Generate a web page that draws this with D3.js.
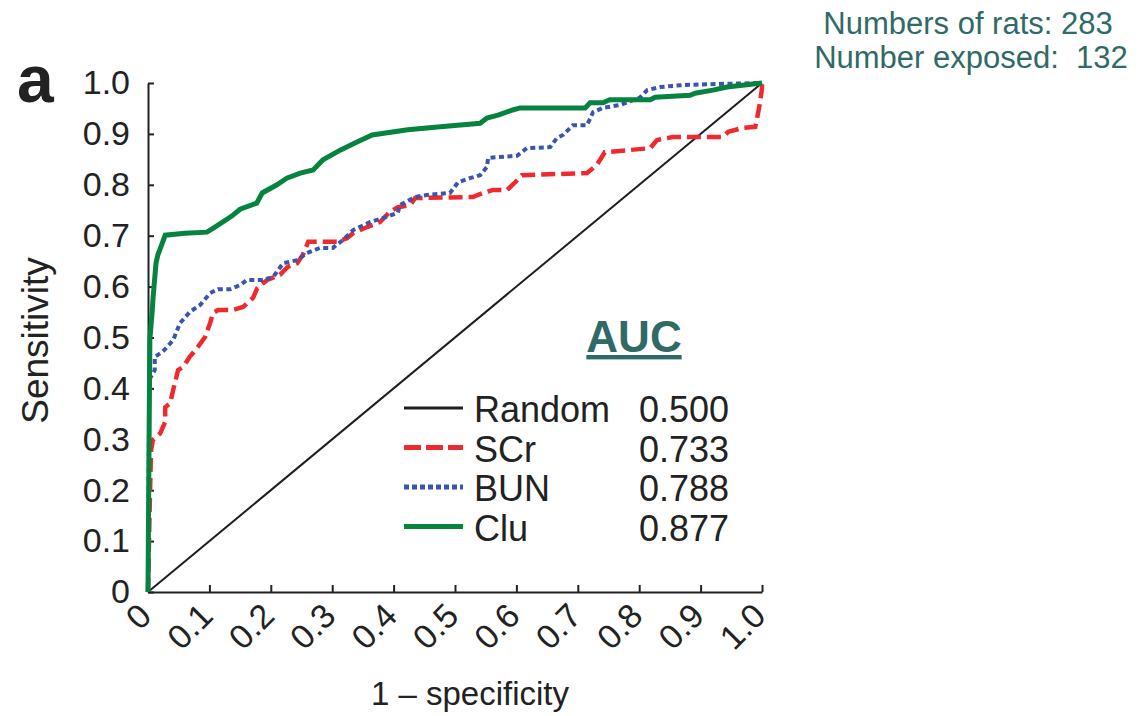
<!DOCTYPE html>
<meta charset="utf-8">
<style type="text/css">
body {
  margin: 0;
  background: #fff;
  font-family: "Liberation Sans", Arial, Helvetica, sans-serif;
}
.axis path, .axis line {
  stroke: #222;
  stroke-width: 2px;
}
.axis text {
  font-size: 34px;
  fill: #222;
  font-family: "Liberation Sans", Arial, sans-serif;
}
.teal {
  fill: #2f6a67;
}
</style>
<body>
<svg id="svg" width="1148" height="716"></svg>
</body>
<script src="https://cdn.jsdelivr.net/npm/d3@7"></script>
<script>
// tick labels
const xTickLabels = ["0", "0.1", "0.2", "0.3", "0.4", "0.5", "0.6", "0.7", "0.8", "0.9", "1.0"];
const yTickLabels = ["0", "0.1", "0.2", "0.3", "0.4", "0.5", "0.6", "0.7", "0.8", "0.9", "1.0"];

// legend / AUC values
const seriesNames = ["Random", "SCr", "BUN", "Clu"];
const aucValues = ["0.500", "0.733", "0.788", "0.877"];

// ROC curves (1 - specificity, sensitivity)
const randomFpr = [0, 1];
const randomTpr = [0, 1];

const scrFpr = [0, 0.003, 0.005, 0.008, 0.020, 0.028, 0.028, 0.036, 0.041, 0.049, 0.057, 0.068, 0.081, 0.093, 0.101, 0.106, 0.114, 0.138, 0.155, 0.171, 0.178, 0.194, 0.215, 0.228, 0.243, 0.252, 0.261, 0.308, 0.324, 0.334, 0.357, 0.378, 0.394, 0.407, 0.427, 0.435, 0.529, 0.546, 0.562, 0.585, 0.598, 0.609, 0.715, 0.731, 0.744, 0.818, 0.829, 0.855, 0.936, 0.945, 0.969, 0.989, 0.993, 0.997, 1.0, 1.0];
const scrTpr = [0, 0.181, 0.279, 0.299, 0.312, 0.334, 0.363, 0.371, 0.397, 0.436, 0.442, 0.462, 0.481, 0.501, 0.528, 0.548, 0.554, 0.554, 0.560, 0.578, 0.597, 0.613, 0.623, 0.639, 0.646, 0.662, 0.688, 0.688, 0.695, 0.705, 0.717, 0.727, 0.747, 0.756, 0.760, 0.774, 0.776, 0.784, 0.790, 0.790, 0.805, 0.819, 0.823, 0.839, 0.864, 0.872, 0.888, 0.894, 0.894, 0.904, 0.912, 0.914, 0.937, 0.963, 0.990, 1.0];

const bunFpr = [0, 0.002, 0.011, 0.011, 0.024, 0.041, 0.052, 0.068, 0.085, 0.101, 0.114, 0.134, 0.150, 0.161, 0.187, 0.204, 0.220, 0.243, 0.259, 0.280, 0.301, 0.318, 0.334, 0.362, 0.383, 0.407, 0.410, 0.435, 0.454, 0.492, 0.505, 0.524, 0.541, 0.552, 0.554, 0.601, 0.617, 0.655, 0.666, 0.676, 0.692, 0.715, 0.725, 0.741, 0.769, 0.801, 0.813, 0.834, 0.871, 0.927, 1.0];
const bunTpr = [0, 0.417, 0.436, 0.462, 0.472, 0.495, 0.528, 0.550, 0.564, 0.587, 0.595, 0.595, 0.603, 0.613, 0.613, 0.619, 0.646, 0.652, 0.666, 0.676, 0.676, 0.692, 0.711, 0.727, 0.735, 0.745, 0.760, 0.776, 0.780, 0.784, 0.805, 0.813, 0.819, 0.835, 0.853, 0.857, 0.872, 0.874, 0.892, 0.898, 0.917, 0.917, 0.943, 0.951, 0.957, 0.971, 0.986, 0.992, 0.996, 0.998, 1.0];

const cluFpr = [0, 0.002, 0.003, 0.007, 0.008, 0.013, 0.016, 0.021, 0.028, 0.060, 0.096, 0.109, 0.137, 0.150, 0.177, 0.186, 0.210, 0.226, 0.248, 0.269, 0.285, 0.313, 0.337, 0.365, 0.423, 0.476, 0.541, 0.552, 0.570, 0.594, 0.606, 0.712, 0.720, 0.741, 0.752, 0.818, 0.826, 0.883, 0.891, 0.920, 0.943, 1.0];
const cluTpr = [0, 0.338, 0.495, 0.554, 0.574, 0.646, 0.662, 0.678, 0.701, 0.705, 0.707, 0.717, 0.739, 0.752, 0.764, 0.784, 0.800, 0.813, 0.823, 0.829, 0.849, 0.868, 0.882, 0.898, 0.908, 0.914, 0.921, 0.931, 0.937, 0.947, 0.951, 0.951, 0.961, 0.961, 0.967, 0.967, 0.972, 0.976, 0.980, 0.986, 0.992, 1.0];

const svg = d3.select("#svg");

const margin = {top: 83, right: 386, bottom: 124, left: 148},
    width = +svg.attr("width") - margin.left - margin.right,
    height = +svg.attr("height") - margin.top - margin.bottom;

const x = d3.scaleLinear().domain([0, 1]).range([0, width]);
const y = d3.scaleLinear().domain([0, 1]).range([height, 0]);

const g = svg.append("g").attr("transform", "translate(" + margin.left + "," + margin.top + ")");

// axes, ticks pointing inside the plot
const xAxis = g.append("g")
    .attr("class", "axis")
    .attr("transform", "translate(0," + height + ")")
    .call(d3.axisBottom(x).tickValues(d3.range(11).map(i => i / 10))
      .tickFormat((d, i) => xTickLabels[i])
      .tickSizeInner(-7).tickSizeOuter(0));
xAxis.selectAll("text")
    .attr("text-anchor", "end")
    .attr("dy", null)
    .attr("y", null)
    .attr("transform", "translate(5,26) rotate(-45)");

g.append("g")
    .attr("class", "axis")
    .call(d3.axisLeft(y).tickValues(d3.range(11).map(i => i / 10))
      .tickFormat((d, i) => yTickLabels[i])
      .tickSizeInner(-6).tickSizeOuter(0).tickPadding(18));

// curves
const line = d3.line()
    .x(d => x(d[0]))
    .y(d => y(d[1]));

const curves = [
  {fpr: randomFpr, tpr: randomTpr, color: "#1e1e1e", w: 2, dash: null},
  {fpr: scrFpr, tpr: scrTpr, color: "#ee2a2e", w: 4.5, dash: "14,6"},
  {fpr: bunFpr, tpr: bunTpr, color: "#3b54ae", w: 4, dash: "5,3.5"},
  {fpr: cluFpr, tpr: cluTpr, color: "#06843f", w: 5, dash: null}
];

g.selectAll(".roc")
  .data(curves)
  .enter().append("path")
    .attr("class", "roc")
    .attr("fill", "none")
    .attr("stroke", d => d.color)
    .attr("stroke-width", d => d.w)
    .attr("stroke-dasharray", d => d.dash)
    .attr("d", d => line(d.fpr.map((v, i) => [v, d.tpr[i]])));

// legend with AUC values
svg.append("text")
    .attr("class", "teal")
    .attr("x", 634)
    .attr("y", 352)
    .attr("text-anchor", "middle")
    .attr("font-size", "44px")
    .attr("font-weight", "bold")
    .attr("text-decoration", "underline")
    .text("AUC");

const legend = svg.selectAll(".legend")
  .data(curves)
  .enter().append("g")
    .attr("class", "legend")
    .attr("transform", (d, i) => "translate(404," + (408 + i * 39.5) + ")");
legend.append("line")
    .attr("x1", 0).attr("x2", 59)
    .attr("stroke", d => d.color)
    .attr("stroke-width", (d, i) => i === 0 ? 3 : 5)
    .attr("stroke-dasharray", (d, i) => i === 1 ? "17,5" : (i === 2 ? "5,3" : null));
legend.append("text")
    .attr("x", 70)
    .attr("y", 14)
    .attr("font-size", "36px")
    .attr("fill", "#222")
    .text((d, i) => seriesNames[i]);
legend.append("text")
    .attr("x", 235)
    .attr("y", 14)
    .attr("font-size", "36px")
    .attr("fill", "#222")
    .text((d, i) => aucValues[i]);

// panel letter and axis titles
svg.append("text")
    .attr("x", 17).attr("y", 102)
    .attr("font-size", "66px")
    .attr("font-weight", "bold")
    .attr("fill", "#222")
    .text("a");

svg.append("text")
    .attr("transform", "translate(48," + (margin.top + height / 2 + 3) + ") rotate(-90)")
    .attr("text-anchor", "middle")
    .attr("font-size", "37px")
    .attr("fill", "#222")
    .text("Sensitivity");

svg.append("text")
    .attr("x", 470).attr("y", 705)
    .attr("text-anchor", "middle")
    .attr("font-size", "33px")
    .attr("fill", "#222")
    .text("1 – specificity");

// counts in the corner
svg.append("text")
    .attr("class", "teal")
    .attr("x", 968).attr("y", 34)
    .attr("text-anchor", "middle")
    .attr("font-size", "31px")
    .text("Numbers of rats: 283");
svg.append("text")
    .attr("class", "teal")
    .attr("x", 971).attr("y", 68)
    .attr("text-anchor", "middle")
    .attr("font-size", "31px")
    .style("white-space", "pre")
    .text("Number exposed:  132");
</script>
